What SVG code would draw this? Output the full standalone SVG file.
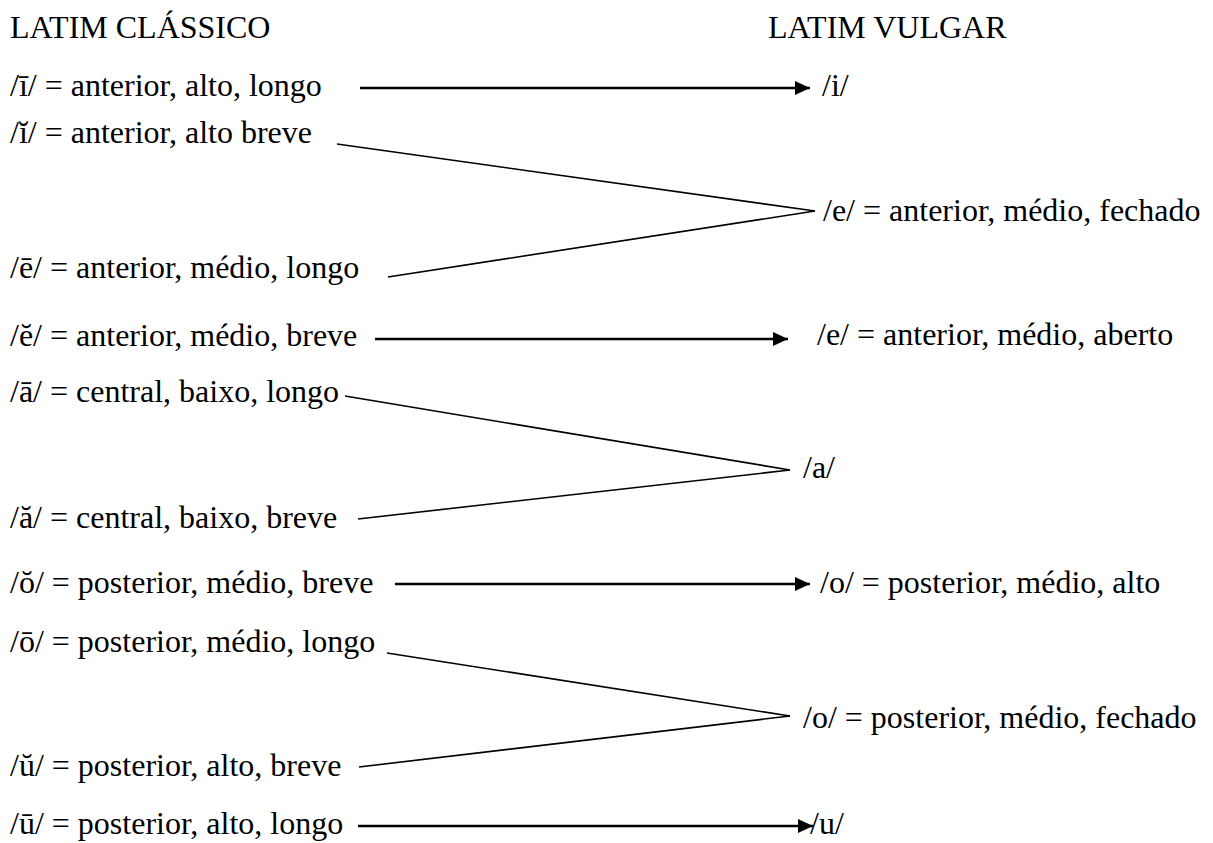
<svg xmlns="http://www.w3.org/2000/svg" width="1213" height="843" viewBox="0 0 1213 843">
<style>
text{font-family:"Liberation Serif","Times New Roman",Times,serif;font-size:32px;fill:#000}
.d{stroke:#000;stroke-width:1.6;fill:none}
.h{stroke:#000;stroke-width:2.6;fill:none}
</style>
<defs>
<marker id="ah" markerUnits="userSpaceOnUse" markerWidth="15" markerHeight="14" refX="15" refY="7" orient="auto">
<path d="M0,0 L15,7 L0,14 z" fill="#000"/>
</marker>
</defs>
<rect width="1213" height="843" fill="#fff"/>
<g id="headers">
<text x="10" y="38">LATIM CLÁSSICO</text>
<text x="768" y="38">LATIM VULGAR</text>
</g>
<g id="n-i-long"><text x="10" y="96">/ī/ = anterior, alto, longo</text></g>
<g id="n-i-short"><text x="10" y="143">/ĭ/ = anterior, alto breve</text></g>
<g id="n-e-long"><text x="10" y="278">/ē/ = anterior, médio, longo</text></g>
<g id="n-e-short"><text x="10" y="346">/ĕ/ = anterior, médio, breve</text></g>
<g id="n-a-long"><text x="10" y="402">/ā/ = central, baixo, longo</text></g>
<g id="n-a-short"><text x="10" y="528">/ă/ = central, baixo, breve</text></g>
<g id="n-o-short"><text x="10" y="593">/ŏ/ = posterior, médio, breve</text></g>
<g id="n-o-long"><text x="10" y="652">/ō/ = posterior, médio, longo</text></g>
<g id="n-u-short"><text x="10" y="776">/ŭ/ = posterior, alto, breve</text></g>
<g id="n-u-long"><text x="10" y="834">/ū/ = posterior, alto, longo</text></g>
<g id="v-i"><text x="822" y="96">/i/</text></g>
<g id="v-e-closed"><text x="823" y="221">/e/ = anterior, médio, fechado</text></g>
<g id="v-e-open"><text x="817" y="345">/e/ = anterior, médio, aberto</text></g>
<g id="v-a"><text x="803" y="478">/a/</text></g>
<g id="v-o-high"><text x="820" y="593">/o/ = posterior, médio, alto</text></g>
<g id="v-o-closed"><text x="803" y="728">/o/ = posterior, médio, fechado</text></g>
<g id="v-u"><text x="810" y="834">/u/</text></g>
<g id="connectors">
<line class="h" x1="360" y1="88" x2="810" y2="88" marker-end="url(#ah)"/>
<line class="d" x1="337" y1="144" x2="815" y2="211"/>
<line class="d" x1="388" y1="277" x2="815" y2="211"/>
<line class="h" x1="375" y1="339" x2="788" y2="339" marker-end="url(#ah)"/>
<line class="d" x1="345" y1="396" x2="790" y2="470"/>
<line class="d" x1="358" y1="519" x2="790" y2="470"/>
<line class="h" x1="395" y1="584" x2="810" y2="584" marker-end="url(#ah)"/>
<line class="d" x1="387" y1="653" x2="790" y2="716"/>
<line class="d" x1="359" y1="767" x2="790" y2="716"/>
<line class="h" x1="358" y1="826" x2="813" y2="826" marker-end="url(#ah)"/>
</g>
</svg>
